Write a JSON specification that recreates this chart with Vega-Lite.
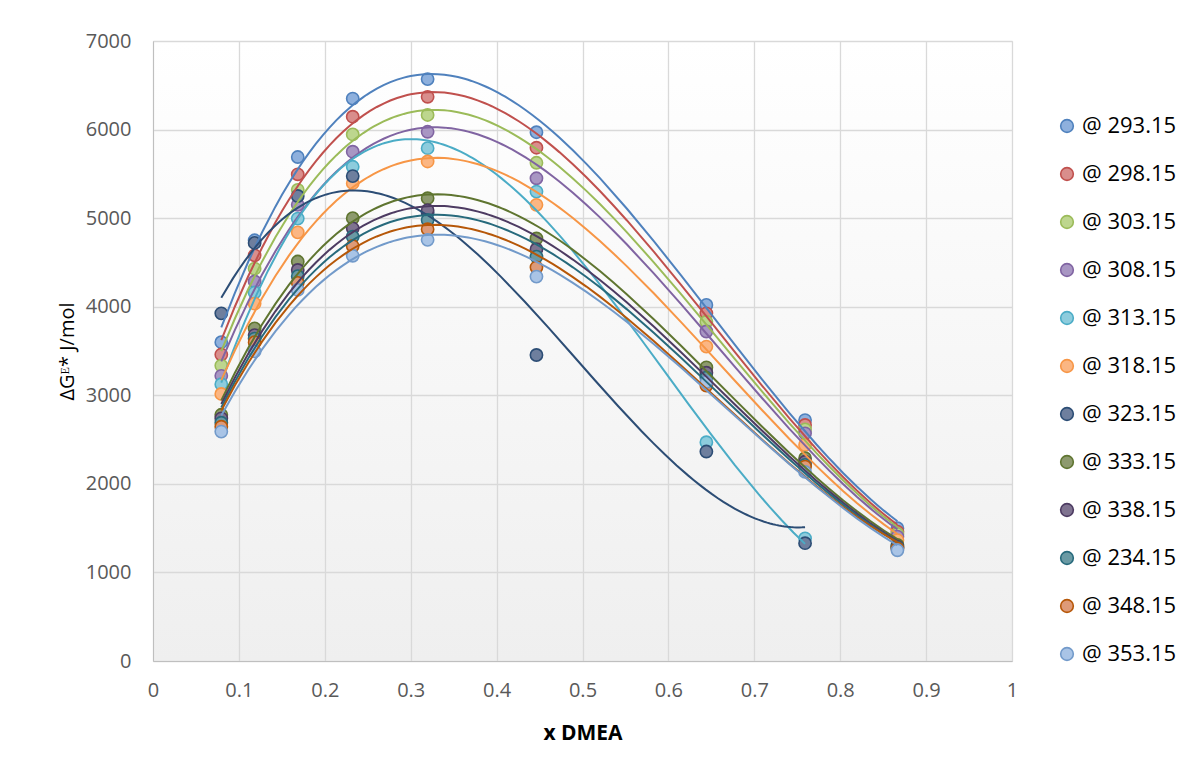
{
  "$schema": "https://vega.github.io/schema/vega-lite/v6.json",
  "width": 859,
  "height": 620,
  "autosize": {"type": "none"},
  "padding": {"left": 153, "top": 41, "right": 188, "bottom": 110},
  "background": "#ffffff",
  "config": {
    "font": "Open Sans",
    "view": {
      "stroke": "#D9D9D9",
      "fill": {"gradient": "linear", "x1": 0, "y1": 0, "x2": 0, "y2": 1, "stops": [{"offset": 0, "color": "#ffffff"}, {"offset": 1, "color": "#EFEFEF"}]}
    },
    "axis": {
      "gridColor": "#D9D9D9",
      "gridWidth": 1.3,
      "domainColor": "#BFBFBF",
      "ticks": false,
      "labelFlush": false,
      "labelFont": "Open Sans",
      "labelFontSize": 20,
      "labelColor": "#595959",
      "titleFont": "Open Sans",
      "titleColor": "#000000"
    },
    "legend": {"symbolType": "circle"}
  },
  "datasets": {
    "pts": [
      {"s": "@ 293.15", "x": 0.0795, "y": 3600}, {"s": "@ 293.15", "x": 0.1183, "y": 4750}, {"s": "@ 293.15", "x": 0.1685, "y": 5690}, {"s": "@ 293.15", "x": 0.2325, "y": 6350}, {"s": "@ 293.15", "x": 0.3197, "y": 6570}, {"s": "@ 293.15", "x": 0.4464, "y": 5970}, {"s": "@ 293.15", "x": 0.6442, "y": 4020}, {"s": "@ 293.15", "x": 0.7591, "y": 2720}, {"s": "@ 293.15", "x": 0.8666, "y": 1500},
      {"s": "@ 298.15", "x": 0.0795, "y": 3460}, {"s": "@ 298.15", "x": 0.1183, "y": 4580}, {"s": "@ 298.15", "x": 0.1685, "y": 5495}, {"s": "@ 298.15", "x": 0.2325, "y": 6145}, {"s": "@ 298.15", "x": 0.3197, "y": 6370}, {"s": "@ 298.15", "x": 0.4464, "y": 5795}, {"s": "@ 298.15", "x": 0.6442, "y": 3925}, {"s": "@ 298.15", "x": 0.7591, "y": 2665}, {"s": "@ 298.15", "x": 0.8666, "y": 1460},
      {"s": "@ 303.15", "x": 0.0795, "y": 3335}, {"s": "@ 303.15", "x": 0.1183, "y": 4430}, {"s": "@ 303.15", "x": 0.1685, "y": 5320}, {"s": "@ 303.15", "x": 0.2325, "y": 5945}, {"s": "@ 303.15", "x": 0.3197, "y": 6165}, {"s": "@ 303.15", "x": 0.4464, "y": 5625}, {"s": "@ 303.15", "x": 0.6442, "y": 3830}, {"s": "@ 303.15", "x": 0.7591, "y": 2615}, {"s": "@ 303.15", "x": 0.8666, "y": 1435},
      {"s": "@ 308.15", "x": 0.0795, "y": 3220}, {"s": "@ 308.15", "x": 0.1183, "y": 4285}, {"s": "@ 308.15", "x": 0.1685, "y": 5150}, {"s": "@ 308.15", "x": 0.2325, "y": 5750}, {"s": "@ 308.15", "x": 0.3197, "y": 5975}, {"s": "@ 308.15", "x": 0.4464, "y": 5450}, {"s": "@ 308.15", "x": 0.6442, "y": 3720}, {"s": "@ 308.15", "x": 0.7591, "y": 2570}, {"s": "@ 308.15", "x": 0.8666, "y": 1405},
      {"s": "@ 313.15", "x": 0.0795, "y": 3125}, {"s": "@ 313.15", "x": 0.1183, "y": 4160}, {"s": "@ 313.15", "x": 0.1685, "y": 4995}, {"s": "@ 313.15", "x": 0.2325, "y": 5580}, {"s": "@ 313.15", "x": 0.3197, "y": 5790}, {"s": "@ 313.15", "x": 0.4464, "y": 5300}, {"s": "@ 313.15", "x": 0.6442, "y": 2470}, {"s": "@ 313.15", "x": 0.7591, "y": 1385},
      {"s": "@ 318.15", "x": 0.0795, "y": 3015}, {"s": "@ 318.15", "x": 0.1183, "y": 4035}, {"s": "@ 318.15", "x": 0.1685, "y": 4840}, {"s": "@ 318.15", "x": 0.2325, "y": 5395}, {"s": "@ 318.15", "x": 0.3197, "y": 5640}, {"s": "@ 318.15", "x": 0.4464, "y": 5150}, {"s": "@ 318.15", "x": 0.6442, "y": 3550}, {"s": "@ 318.15", "x": 0.7591, "y": 2440}, {"s": "@ 318.15", "x": 0.8666, "y": 1365},
      {"s": "@ 323.15", "x": 0.0795, "y": 3925}, {"s": "@ 323.15", "x": 0.1183, "y": 4720}, {"s": "@ 323.15", "x": 0.1685, "y": 5250}, {"s": "@ 323.15", "x": 0.2325, "y": 5475}, {"s": "@ 323.15", "x": 0.3197, "y": 5060}, {"s": "@ 323.15", "x": 0.4464, "y": 3455}, {"s": "@ 323.15", "x": 0.6442, "y": 2365}, {"s": "@ 323.15", "x": 0.7591, "y": 1330},
      {"s": "@ 333.15", "x": 0.0795, "y": 2780}, {"s": "@ 333.15", "x": 0.1183, "y": 3755}, {"s": "@ 333.15", "x": 0.1685, "y": 4510}, {"s": "@ 333.15", "x": 0.2325, "y": 5000}, {"s": "@ 333.15", "x": 0.3197, "y": 5225}, {"s": "@ 333.15", "x": 0.4464, "y": 4770}, {"s": "@ 333.15", "x": 0.6442, "y": 3315}, {"s": "@ 333.15", "x": 0.7591, "y": 2290}, {"s": "@ 333.15", "x": 0.8666, "y": 1310},
      {"s": "@ 338.15", "x": 0.0795, "y": 2740}, {"s": "@ 338.15", "x": 0.1183, "y": 3680}, {"s": "@ 338.15", "x": 0.1685, "y": 4415}, {"s": "@ 338.15", "x": 0.2325, "y": 4885}, {"s": "@ 338.15", "x": 0.3197, "y": 5090}, {"s": "@ 338.15", "x": 0.4464, "y": 4650}, {"s": "@ 338.15", "x": 0.6442, "y": 3255}, {"s": "@ 338.15", "x": 0.7591, "y": 2250}, {"s": "@ 338.15", "x": 0.8666, "y": 1290},
      {"s": "@ 234.15", "x": 0.0795, "y": 2690}, {"s": "@ 234.15", "x": 0.1183, "y": 3640}, {"s": "@ 234.15", "x": 0.1685, "y": 4345}, {"s": "@ 234.15", "x": 0.2325, "y": 4790}, {"s": "@ 234.15", "x": 0.3197, "y": 4980}, {"s": "@ 234.15", "x": 0.4464, "y": 4565}, {"s": "@ 234.15", "x": 0.6442, "y": 3200}, {"s": "@ 234.15", "x": 0.7591, "y": 2215}, {"s": "@ 234.15", "x": 0.8666, "y": 1280},
      {"s": "@ 348.15", "x": 0.0795, "y": 2645}, {"s": "@ 348.15", "x": 0.1183, "y": 3600}, {"s": "@ 348.15", "x": 0.1685, "y": 4270}, {"s": "@ 348.15", "x": 0.2325, "y": 4685}, {"s": "@ 348.15", "x": 0.3197, "y": 4875}, {"s": "@ 348.15", "x": 0.4464, "y": 4445}, {"s": "@ 348.15", "x": 0.6442, "y": 3110}, {"s": "@ 348.15", "x": 0.7591, "y": 2195}, {"s": "@ 348.15", "x": 0.8666, "y": 1270},
      {"s": "@ 353.15", "x": 0.0795, "y": 2590}, {"s": "@ 353.15", "x": 0.1183, "y": 3495}, {"s": "@ 353.15", "x": 0.1685, "y": 4190}, {"s": "@ 353.15", "x": 0.2325, "y": 4575}, {"s": "@ 353.15", "x": 0.3197, "y": 4755}, {"s": "@ 353.15", "x": 0.4464, "y": 4340}, {"s": "@ 353.15", "x": 0.6442, "y": 3150}, {"s": "@ 353.15", "x": 0.7591, "y": 2135}, {"s": "@ 353.15", "x": 0.8666, "y": 1250}
    ]
  },
  "data": {"name": "pts"},
  "encoding": {
    "x": {
      "field": "x", "type": "quantitative",
      "scale": {"domain": [0, 1], "nice": false},
      "axis": {"title": "x DMEA", "values": [0, 0.1, 0.2, 0.3, 0.4, 0.5, 0.6, 0.7, 0.8, 0.9, 1], "format": "~g", "labelPadding": 19, "titleFontSize": 21, "titleFontWeight": "bold", "titlePadding": 22}
    },
    "y": {
      "field": "y", "type": "quantitative",
      "scale": {"domain": [0, 7000], "nice": false},
      "axis": {"title": "ΔGᴱ* J/mol", "values": [0, 1000, 2000, 3000, 4000, 5000, 6000, 7000], "format": "d", "labelPadding": 22, "titleFontSize": 20, "titleFontWeight": "normal", "titlePadding": 8}
    }
  },
  "layer": [
    {
      "mark": {"type": "point", "filled": true, "size": 150, "strokeWidth": 1.6, "opacity": 1},
      "encoding": {
        "fill": {
          "field": "s", "type": "nominal",
          "scale": {"domain": ["@ 293.15", "@ 298.15", "@ 303.15", "@ 308.15", "@ 313.15", "@ 318.15", "@ 323.15", "@ 333.15", "@ 338.15", "@ 234.15", "@ 348.15", "@ 353.15"],
                    "range": ["#8EB0DD", "#D98E8C", "#BDD68E", "#A896C3", "#8DCCDD", "#FBB683", "#6E7F9E", "#8D9A6E", "#7F7390", "#6A9AA4", "#DE9A78", "#A9C4E6"]},
          "legend": {"title": null, "orient": "none", "legendX": 903, "legendY": 74, "labelFontSize": 22, "labelColor": "#000000", "labelFont": "Open Sans", "symbolSize": 160, "symbolStrokeWidth": 1.6, "rowPadding": 26, "labelOffset": 4}
        },
        "stroke": {
          "field": "s", "type": "nominal",
          "scale": {"domain": ["@ 293.15", "@ 298.15", "@ 303.15", "@ 308.15", "@ 313.15", "@ 318.15", "@ 323.15", "@ 333.15", "@ 338.15", "@ 234.15", "@ 348.15", "@ 353.15"],
                    "range": ["#4F81BD", "#C0504D", "#9BBB59", "#8064A2", "#4BACC6", "#F79646", "#2C4D75", "#5F7530", "#4D3B62", "#276A7C", "#B65708", "#729ACA"]},
          "legend": {"title": null, "orient": "none", "legendX": 903, "legendY": 74, "labelFontSize": 22, "labelColor": "#000000", "labelFont": "Open Sans", "symbolSize": 160, "symbolStrokeWidth": 1.6, "rowPadding": 26, "labelOffset": 4}
        }
      }
    },
    {
      "transform": [{"regression": "y", "on": "x", "groupby": ["s"], "method": "poly", "order": 3}],
      "mark": {"type": "line", "strokeWidth": 2},
      "encoding": {
        "stroke": {"field": "s", "type": "nominal"}
      }
    }
  ]
}
